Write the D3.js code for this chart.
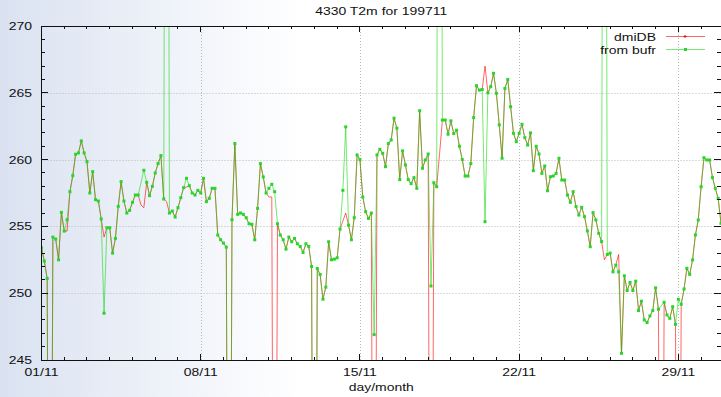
<!DOCTYPE html>
<html>
<head>
<meta charset="utf-8">
<script src="https://cdn.jsdelivr.net/npm/d3@7"></script>
<style>
  html, body { margin: 0; padding: 0; background: #fff; }
  svg { display: block; }
</style>
</head>
<body>
<svg id="chart" width="721" height="397"></svg>
<script>
// ---- data -------------------------------------------------------------
const chartTitle = "4330 T2m for 199711";
const xAxisTitle = "day/month";
const seriesNames = ["dmiDB", "from bufr"];

// 3-hourly synoptic observations, 1997-11-01 00 UTC .. 1997-11-30 21 UTC
const firstObs = Date.UTC(1997, 10, 1, 0);
const lastObs = Date.UTC(1997, 10, 30, 21);
const stepHours = 3;

const yTicks = [245, 250, 255, 260, 265, 270];
const xTickDays = [1, 8, 15, 22, 29];
const xTickLabels = ["01/11", "08/11", "15/11", "22/11", "29/11"];

// T2m (K); null = no report. Gross errors (far off the axis range) kept as reported.
const dmiDB = [
  253.4, 252.4, 251.1, 200, 254.2, 254.05, 252.5, 256.05, 254.65, 254.65,
  257.6, 258.8, 260.4, 260.5, 261.4, 260.5, 259.85, 257.5, 259.1, 257.0,
  256.9, 255.55, 254.2, 254.9, 254.9, 253.0, 254.1, 256.5, 258.35, 256.9,
  256.0, 256.2, 256.8, 257.35, 257.35, 256.6, 256.4, 258.3, 257.3, 258.0,
  259.0, 259.7, 260.3, 257.05, 256.85, 256.0, 256.15, 255.7, 256.4, 257.15,
  257.9, 257.95, 258.05, 257.5, 257.35, 257.7, 257.5, 258.6, 256.85, 257.1,
  257.85, 257.85, 254.35, 254.0, 253.75, 253.45, 200, 255.5, 261.2, 255.9,
  256.0, 255.9, 255.65, 255.2, 255.15, 254.0, 256.35, 259.7, 258.7, 257.5,
  257.2, 257.2, 200, 255.2, 254.35, 254.0, 253.3, 254.2, 253.85, 254.1,
  253.7, 253.5, 253.05, 253.7, 253.5, 252.0, 200, 251.85, 251.4, 249.55,
  250.45, 253.85, 252.5, 252.55, 252.65, 254.8, 255.4, 256.0, 255.1, 254.0,
  255.65, 260.35, 260.0, 257.2, 256.1, 255.6, 256.0, 200, 260.35, 260.77,
  260.47, 259.47, 261.2, 261.47, 263.1, 262.35, 258.5, 260.65, 259.6, 258.5,
  258.2, 258.65, 257.85, 263.66, 259.35, 259.97, 260.42, 200, 258.27, 257.97,
  260.4, 262.96, 262.96, 261.9, 262.9, 261.95, 262.2, 261.0, 260.0, 258.77,
  258.77, 259.7, 263.14, 265.53, 265.2, 265.25, 267.0, 265.0, 265.46, 266.46,
  264.96, 262.6, 260.1, 265.33, 266.0, 263.96, 261.97, 261.34, 261.97, 262.64,
  261.64, 261.09, 262.0, 259.17, 261.0, 260.42, 258.97, 259.52, 257.67, 258.72,
  258.77, 258.97, 260.1, 258.47, 258.47, 257.35, 256.8, 257.6, 256.48, 255.85,
  256.43, 255.73, 254.66, 253.48, 256.03, 255.48, 254.48, 253.86, 252.5, 252.9,
  253.0, 251.6, 252.1, 252.9, 245.5, 251.3, 250.2, 250.8, 250.2, 250.9,
  248.7, 249.4, 248.0, 247.8, 248.3, 248.7, 250.4, 248.8, 200, 249.32,
  248.37, 248.12, 248.99, 247.67, 200, 249.17, 250.31, 251.86, 251.41, 252.49,
  254.36, 255.48, 257.97, 260.14, 259.97, 259.97, 258.65, 257.85, 257.1, 255.23
];

const fromBufr = [
  253.4, 252.4, 251.1, 200, 254.2, 254.05, 252.5, 256.05, 254.65, 255.5,
  257.6, 258.8, 260.4, 260.5, 261.4, 260.5, 259.85, 257.5, 259.1, 257.0,
  256.9, 255.55, 248.5, 254.9, 254.9, 253.0, 254.1, 256.5, 258.35, 256.9,
  256.0, 256.2, 256.8, 257.35, 257.35, null, 259.2, 258.3, 257.3, 258.0,
  259.0, 259.7, 260.3, 257.05, 340, 256.0, 256.15, 255.7, 256.4, 257.15,
  257.9, 258.6, 258.05, 257.5, 257.35, 257.7, 257.5, 258.6, 256.85, 257.1,
  257.85, 257.85, 254.35, 254.0, 253.75, 253.45, 200, 255.5, 261.2, 255.9,
  256.0, 255.9, 255.65, 255.2, 255.15, 254.0, 256.35, 259.7, 258.7, 257.5,
  257.85, 258.15, 257.6, 255.2, 254.35, 254.0, 253.3, 254.2, 253.85, 254.1,
  253.7, 253.5, 253.05, 253.7, 253.5, 252.0, 200, 251.85, 251.4, 249.55,
  250.45, 253.85, 252.5, 252.55, 252.65, 254.8, 257.7, 262.45, 255.1, 254.0,
  255.65, 260.35, 260.0, 257.2, 256.1, 255.6, 256.0, 246.9, 260.35, 260.77,
  260.47, 259.47, 261.2, 261.47, 263.1, 262.35, 258.5, 260.65, 259.6, 258.5,
  258.2, 258.65, 257.85, 263.66, 259.35, 259.97, 260.42, 250.54, 258.27, 257.97,
  340, 262.96, 262.96, 261.9, 262.9, 261.95, 262.2, 261.0, 260.0, 258.77,
  258.77, 259.7, 263.14, 265.53, 265.2, 265.25, 255.35, 265.0, 265.46, 266.46,
  264.96, 262.6, 260.1, 265.33, 266.0, 263.96, 261.97, 261.34, 261.97, 262.64,
  261.64, 261.09, 262.0, 259.17, 261.0, 260.42, 258.97, 259.52, 257.67, 258.72,
  258.77, 258.97, 260.1, 258.47, 258.47, 257.35, 256.8, 257.6, 256.48, 255.85,
  256.43, 255.73, 254.66, 253.48, 256.03, 255.48, 254.48, 253.86, 340, 252.9,
  253.0, 251.6, 252.1, 251.6, 245.5, 251.3, 250.2, 250.8, 250.2, 250.9,
  248.7, 249.4, 248.0, 247.8, 248.3, 248.7, 250.4, 248.8, null, 249.32,
  248.37, 248.12, 248.99, 247.67, 249.54, 249.17, 250.31, 251.86, 251.41, 252.49,
  254.36, 255.48, 257.97, 260.14, 259.97, 259.97, 258.65, 257.85, 257.1, 255.23
];

// ---- layout & styles --------------------------------------------------
const W = 721, H = 397;
const plot = { left: 41.5, right: 721, top: 26, bottom: 360 };
const redLine = "#ff0000", greenLine = "#00d800", greenMark = "#2ad42a";
const fontFamily = "'Liberation Sans', Arial, sans-serif";
const fontSize = 11, stretchX = 1.27;

const svg = d3.select("#chart");

const defs = svg.append("defs");
const bg = defs.append("linearGradient").attr("id", "bgFade")
  .attr("gradientUnits", "userSpaceOnUse")
  .attr("x1", 0).attr("y1", 0).attr("x2", 300).attr("y2", 0);
bg.append("stop").attr("offset", 0).attr("stop-color", "#dae2f1");
bg.append("stop").attr("offset", 1).attr("stop-color", "#ffffff");
defs.append("clipPath").attr("id", "plotClip").append("rect")
  .attr("x", plot.left).attr("y", plot.top)
  .attr("width", plot.right - plot.left).attr("height", plot.bottom - plot.top);

svg.append("rect").attr("width", W).attr("height", H).attr("fill", "url(#bgFade)");

// ---- scales -----------------------------------------------------------
const x = d3.scaleUtc().domain([firstObs, lastObs]).range([plot.left, plot.right]);
const y = d3.scaleLinear().domain([yTicks[0], yTicks[yTicks.length - 1]])
  .range([plot.bottom, plot.top]);

const obsTime = i => new Date(firstObs + i * stepHours * 3600e3);
const toPoints = arr => arr.map((v, i) => ({ t: obsTime(i), v }))
  .filter(d => d.v !== null);

const dayDate = d => new Date(Date.UTC(1997, 10, d));

// ---- grid -------------------------------------------------------------
const grid = svg.append("g").attr("stroke", "#b8b8b8").attr("stroke-width", 1)
  .attr("stroke-dasharray", "1,2");
yTicks.slice(1, -1).forEach(v => {
  const yy = Math.round(y(v)) + 0.5;
  grid.append("line").attr("x1", plot.left).attr("x2", plot.right)
    .attr("y1", yy).attr("y2", yy);
});
xTickDays.slice(1).forEach(d => {
  const xx = Math.round(x(dayDate(d))) + 0.5;
  grid.append("line").attr("x1", xx).attr("x2", xx)
    .attr("y1", plot.top).attr("y2", plot.bottom);
});

// ---- series -----------------------------------------------------------
const line = d3.line().x(d => x(d.t)).y(d => y(d.v));
const series = svg.append("g").attr("clip-path", "url(#plotClip)");

const dmiPts = toPoints(dmiDB);
const bufrPts = toPoints(fromBufr);

series.append("path").datum(dmiPts).attr("d", line)
  .attr("fill", "none").attr("stroke", redLine).attr("stroke-opacity", 0.6)
  .attr("stroke-width", 1);
series.append("path").datum(bufrPts).attr("d", line)
  .attr("fill", "none").attr("stroke", greenLine).attr("stroke-opacity", 0.55)
  .attr("stroke-width", 1);

series.append("g").selectAll("rect").data(bufrPts).join("rect")
  .attr("x", d => x(d.t) - 1.5).attr("y", d => y(d.v) - 1.5)
  .attr("width", 3).attr("height", 3).attr("fill", greenMark);

// ---- frame & ticks ----------------------------------------------------
const frame = svg.append("g").attr("stroke", "#111").attr("stroke-width", 1)
  .attr("shape-rendering", "crispEdges");
frame.append("rect").attr("x", plot.left).attr("y", plot.top)
  .attr("width", plot.right - plot.left).attr("height", plot.bottom - plot.top)
  .attr("fill", "none");

d3.range(yTicks[0], yTicks[yTicks.length - 1] + 1).forEach(v => {
  const len = v % 5 === 0 ? 6 : 3;
  const yy = y(v);
  frame.append("line").attr("x1", plot.left).attr("x2", plot.left + len)
    .attr("y1", yy).attr("y2", yy);
  frame.append("line").attr("x1", plot.right - len - 1).attr("x2", plot.right)
    .attr("y1", yy).attr("y2", yy);
});
d3.utcDay.range(dayDate(1), new Date(lastObs)).forEach(d => {
  const major = xTickDays.includes(d.getUTCDate());
  const len = major ? 6 : 3;
  const xx = x(d);
  frame.append("line").attr("x1", xx).attr("x2", xx)
    .attr("y1", plot.bottom).attr("y2", plot.bottom - len);
  frame.append("line").attr("x1", xx).attr("x2", xx)
    .attr("y1", plot.top).attr("y2", plot.top + len);
});

// ---- text -------------------------------------------------------------
function label(px, py, str, anchor) {
  return svg.append("text")
    .attr("transform", `translate(${px},${py}) scale(${stretchX},1)`)
    .attr("text-anchor", anchor)
    .attr("font-family", fontFamily).attr("font-size", fontSize)
    .attr("fill", "#111").text(str);
}

yTicks.forEach(v => label(32, y(v) + 4, String(v), "end"));
xTickDays.forEach((d, i) => label(x(dayDate(d)), 376, xTickLabels[i], "middle"));
label((plot.left + plot.right) / 2, 391, xAxisTitle, "middle");
label((plot.left + plot.right) / 2, 15, chartTitle, "middle");

// ---- legend -----------------------------------------------------------
const legendRows = [
  { name: seriesNames[0], color: redLine, opacity: 0.6, y: 36.5, mark: "plus" },
  { name: seriesNames[1], color: greenLine, opacity: 0.55, y: 49.5, mark: "box" }
];
legendRows.forEach(r => {
  label(656, r.y + 4, r.name, "end");
  svg.append("line").attr("x1", 666).attr("x2", 705)
    .attr("y1", r.y).attr("y2", r.y)
    .attr("stroke", r.color).attr("stroke-opacity", r.opacity);
  if (r.mark === "box") {
    svg.append("rect").attr("x", 684).attr("y", r.y - 1.5)
      .attr("width", 3).attr("height", 3).attr("fill", greenMark);
  } else {
    svg.append("path").attr("d", `M683.5,${r.y}h3M685,${r.y - 1.5}v3`)
      .attr("stroke", r.color).attr("stroke-width", 1);
  }
});
</script>
</body>
</html>
